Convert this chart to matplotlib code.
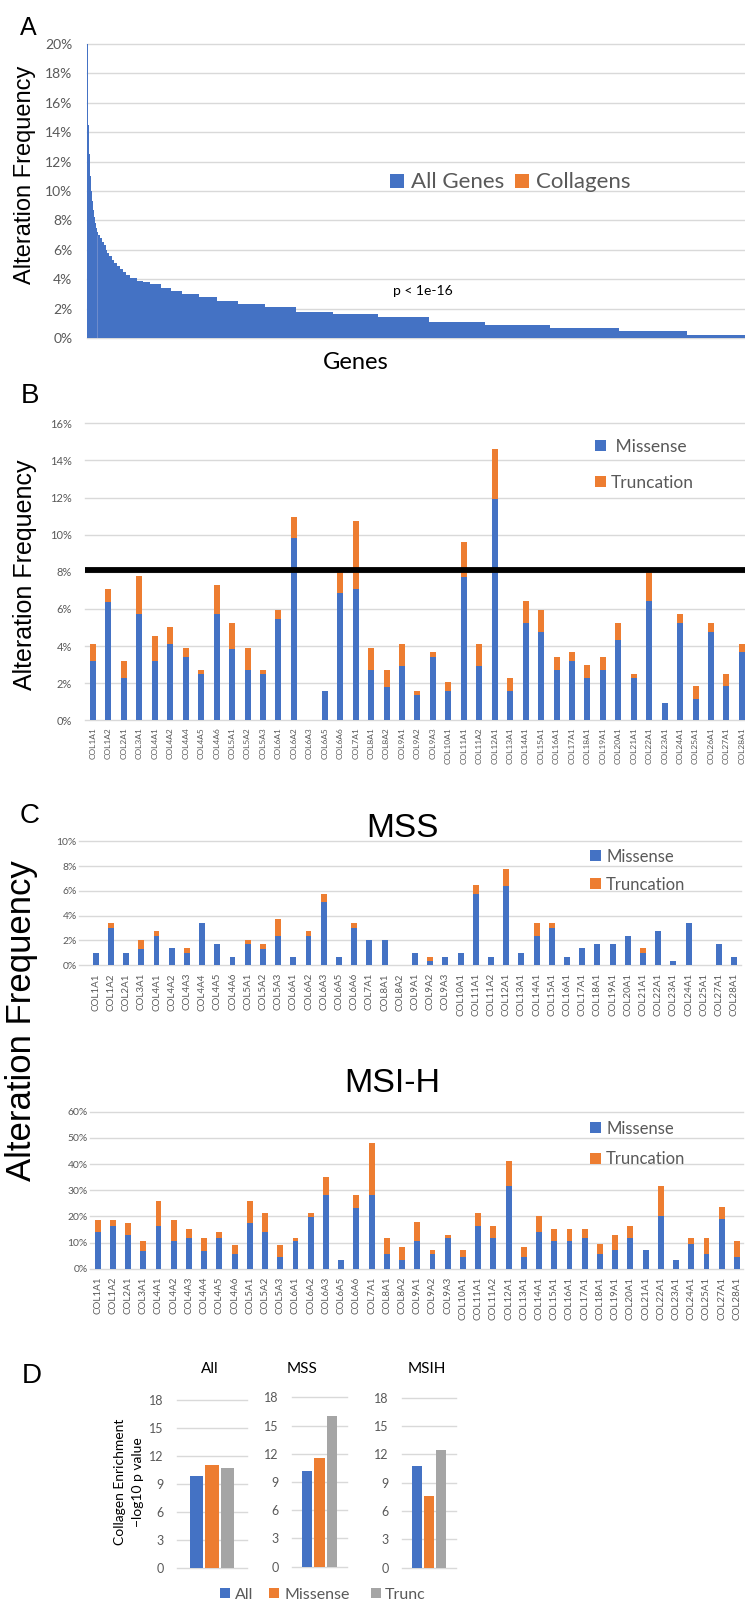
import matplotlib
matplotlib.use('Agg')
import matplotlib.pyplot as plt
from matplotlib.patches import Rectangle
from matplotlib.ticker import PercentFormatter
import numpy as np

plt.rcParams['font.family'] = ['Lato', 'DejaVu Sans']

W, H = 745, 1603
BLUE = '#4472C4'
ORANGE = '#ED7D31'
GREY = '#A5A5A5'
GRID = '#D9D9D9'
TICK = '#595959'

# ---- panel A: all genes sorted by alteration frequency (step levels, gene counts per step)
a_levels = [20.0, 14.5, 12.5, 11.0, 10.0, 9.3, 8.7, 8.2, 7.8, 7.5,
            7.2, 7.0, 6.8, 6.5, 6.3, 6.0, 5.8, 5.6, 5.3, 5.1,
            4.9, 4.7, 4.5, 4.3, 4.1, 3.9, 3.8, 3.7, 3.4, 3.2,
            3.0, 2.8, 2.5, 2.3, 2.1, 1.8, 1.6, 1.4, 1.1, 0.9,
            0.7, 0.5, 0.2]
a_counts = [2, 2, 2, 2, 2, 2, 2, 2, 2, 3,
            3, 3, 4, 4, 4, 4, 4, 5, 5, 6,
            6, 7, 7, 8, 14, 13, 15, 22, 21, 25,
            34, 38, 45, 56, 66, 79, 94, 107, 119, 136,
            146, 143, 160]
a_visible = 1386
collagen_pos = [21]
collagen_freq = [7.0]

# ---- panel B: all samples
genes_b = ['COL1A1', 'COL1A2', 'COL2A1', 'COL3A1', 'COL4A1', 'COL4A2', 'COL4A4', 'COL4A5',
           'COL4A6', 'COL5A1', 'COL5A2', 'COL5A3', 'COL6A1', 'COL6A2', 'COL6A3', 'COL6A5',
           'COL6A6', 'COL7A1', 'COL8A1', 'COL8A2', 'COL9A1', 'COL9A2', 'COL9A3', 'COL10A1',
           'COL11A1', 'COL11A2', 'COL12A1', 'COL13A1', 'COL14A1', 'COL15A1', 'COL16A1',
           'COL17A1', 'COL18A1', 'COL19A1', 'COL20A1', 'COL21A1', 'COL22A1', 'COL23A1',
           'COL24A1', 'COL25A1', 'COL26A1', 'COL27A1', 'COL28A1']
missense_b = [3.2, 6.4, 2.3, 5.7, 3.2, 4.1, 3.43, 2.51, 5.7, 3.86, 2.73, 2.51, 5.48, 9.8, 0,
              1.6, 6.84, 7.07, 2.73, 1.81, 2.95, 1.37, 3.43, 1.6, 7.74, 2.95, 11.9, 1.6,
              5.24, 4.78, 2.73, 3.2, 2.28, 2.73, 4.34, 2.28, 6.41, 0.93, 5.24, 1.13, 4.78,
              1.83, 3.66]
trunc_b = [0.9, 0.67, 0.9, 2.05, 1.36, 0.93, 0.47, 0.22, 1.6, 1.38, 1.17, 0.22, 0.46, 1.15, 0,
           0, 1.16, 3.67, 1.17, 0.92, 1.15, 0.23, 0.23, 0.46, 1.85, 1.15, 2.7, 0.68,
           1.17, 1.16, 0.7, 0.46, 0.68, 0.7, 0.9, 0.23, 1.59, 0, 0.47, 0.7, 0.46,
           0.68, 0.44]
threshold_b = 8.12

# ---- panel C: MSS and MSI-H
genes_c = ['COL1A1', 'COL1A2', 'COL2A1', 'COL3A1', 'COL4A1', 'COL4A2', 'COL4A3', 'COL4A4',
           'COL4A5', 'COL4A6', 'COL5A1', 'COL5A2', 'COL5A3', 'COL6A1', 'COL6A2', 'COL6A3',
           'COL6A5', 'COL6A6', 'COL7A1', 'COL8A1', 'COL8A2', 'COL9A1', 'COL9A2', 'COL9A3',
           'COL10A1', 'COL11A1', 'COL11A2', 'COL12A1', 'COL13A1', 'COL14A1', 'COL15A1',
           'COL16A1', 'COL17A1', 'COL18A1', 'COL19A1', 'COL20A1', 'COL21A1', 'COL22A1',
           'COL23A1', 'COL24A1', 'COL25A1', 'COL27A1', 'COL28A1']
mss_missense = [1.0, 3.02, 1.0, 1.32, 2.37, 1.35, 1.0, 3.4, 1.7, 0.67, 1.7, 1.32, 2.37, 0.67,
                2.37, 5.07, 0.67, 3.02, 2.0, 2.0, 0, 1.0, 0.32, 0.67, 1.0, 5.74, 0.67, 6.41,
                1.0, 2.37, 3.02, 0.67, 1.35, 1.7, 1.7, 2.37, 1.0, 2.72, 0.32, 3.4, 0, 1.7, 0.67]
mss_trunc = [0, 0.38, 0, 0.68, 0.35, 0, 0.35, 0, 0, 0, 0.32, 0.38, 1.35, 0, 0.35, 0.67, 0,
             0.38, 0, 0, 0, 0, 0.35, 0, 0, 0.7, 0, 1.38, 0, 1.03, 0.38, 0, 0, 0, 0, 0, 0.35,
             0, 0, 0, 0, 0, 0]
msi_missense = [14.1, 16.4, 12.8, 6.8, 16.4, 10.4, 11.6, 6.8, 11.6, 5.6, 17.5, 13.9, 4.5, 10.4,
                19.8, 28.1, 3.3, 23.3, 28.1, 5.7, 3.4, 10.4, 5.7, 11.7, 4.6, 16.4, 11.7, 31.7,
                4.6, 14.1, 10.4, 10.4, 11.7, 5.7, 7.0, 11.7, 7.0, 20.0, 3.4, 9.4, 5.7, 18.9, 4.6]
msi_trunc = [4.7, 2.4, 4.7, 3.6, 9.4, 8.4, 3.6, 4.8, 2.3, 3.6, 8.3, 7.2, 4.7, 1.2, 1.3, 7.1, 0,
             4.8, 20.1, 6.0, 4.8, 7.3, 1.3, 1.2, 2.4, 4.7, 4.7, 9.4, 3.6, 5.9, 4.9, 4.9, 3.6,
             3.7, 5.9, 4.7, 0, 11.7, 0, 2.3, 6.0, 4.7, 5.8]

# ---- panel D: collagen enrichment, -log10 p
d_groups = ['All', 'MSS', 'MSIH']
d_series = ['All', 'Missense', 'Trunc']
d_all = [9.84, 10.2, 10.77]
d_missense = [11.02, 11.55, 7.59]
d_trunc = [10.7, 16.05, 12.46]

fig = plt.figure(figsize=(W / 100, H / 100), dpi=100)


def px_axes(left, top, right, bottom):
    return fig.add_axes([left / W, 1 - bottom / H, (right - left) / W, (bottom - top) / H])


def style(ax, ymax, ystep, pad, size, pct=True):
    for s in ax.spines.values():
        s.set_visible(False)
    ax.set_ylim(0, ymax)
    ax.set_yticks(np.arange(0, ymax + ystep / 2, ystep))
    if pct:
        ax.yaxis.set_major_formatter(PercentFormatter(decimals=0))
    ax.tick_params(axis='both', length=0, colors=TICK)
    ax.tick_params(axis='y', pad=pad, labelsize=size)
    ax.grid(axis='y', color=GRID, linewidth=1.0)
    for g in ax.get_ygridlines():
        g.set_clip_on(False)
    ax.set_axisbelow(True)


def ftext(x, y, s, **kw):
    fig.text(x / W, 1 - y / H, s, **kw)


def fbox(x0, y0, x1, y1, color):
    fig.add_artist(Rectangle((x0 / W, 1 - y1 / H), (x1 - x0) / W, (y1 - y0) / H,
                             transform=fig.transFigure, color=color, lw=0))


def legend_item(x0, yc, side, color, label, tx, size):
    fbox(x0, yc - side / 2, x0 + side, yc + side / 2, color)
    ftext(tx, yc + 0.36 * size * 100 / 72, label, fontsize=size, color=TICK, va='baseline')


def stacked(ax, genes, missense, trunc, width, xlim, label_size, label_pad):
    x = np.arange(len(genes))
    ax.bar(x, missense, width=width, color=BLUE, linewidth=0)
    ax.bar(x, trunc, width=width, bottom=missense, color=ORANGE, linewidth=0)
    ax.set_xlim(*xlim)
    ax.set_xticks(x)
    ax.set_xticklabels(genes, rotation=90, fontsize=label_size)
    ax.tick_params(axis='x', pad=label_pad)


# ---------------- panel A
axA = px_axes(87, 44, 745, 338)
style(axA, 20, 2, 10.5, 10)
edges = np.concatenate([[0], np.cumsum(a_counts)])
axA.stairs(a_levels, edges, fill=True, color=BLUE, linewidth=0)
axA.vlines(collagen_pos, 0, collagen_freq, color='#7F97D0', linewidth=0.5)
axA.set_xlim(0, a_visible)
axA.set_xticks([])
ftext(20, 35, 'A', fontsize=18, family='Liberation Sans')
ftext(25, 175, 'Alteration Frequency', fontsize=17, family='Liberation Sans',
      rotation=90, ha='center', va='center')
fbox(390, 174, 404, 188, BLUE)
ftext(411, 188, 'All Genes', fontsize=16, color=TICK, va='baseline')
fbox(515, 174, 529, 188, ORANGE)
ftext(536, 188, 'Collagens', fontsize=16, color=TICK, va='baseline')
ftext(423, 295, 'p < 1e-16', fontsize=10, ha='center', va='baseline')
ftext(356, 369, 'Genes', fontsize=17, ha='center', va='baseline')

# ---------------- panel B
axB = px_axes(85, 423.3, 745, 720.3)
style(axB, 16, 2, 9.5, 8)
stacked(axB, genes_b, missense_b, trunc_b, 0.39, (-0.52, 42.2), 6, 5)
axB.axhline(threshold_b, xmin=0.0015, color='black', linewidth=4.2, zorder=5)
ftext(21, 403, 'B', fontsize=20, family='Liberation Sans')
ftext(25, 575, 'Alteration Frequency', fontsize=18, family='Liberation Sans',
      rotation=90, ha='center', va='center')
legend_item(595, 445.5, 11, BLUE, ' Missense', 611, 12.5)
legend_item(595, 481.5, 11, ORANGE, 'Truncation', 611, 12.5)

# ---------------- panel C
axM = px_axes(79, 841.3, 741, 965)
style(axM, 10, 2, 1.5, 7.5)
stacked(axM, genes_c, mss_missense, mss_trunc, 0.39, (-1.1, 42.45), 7, 5.8)
legend_item(590, 855.5, 11, BLUE, 'Missense', 606, 12)
legend_item(590, 883.5, 11, ORANGE, 'Truncation', 606, 12)
ftext(402, 837, 'MSS', fontsize=24, family='Liberation Sans', ha='center', va='baseline')

axH = px_axes(90, 1111.7, 743, 1268.7)
style(axH, 60, 10, 1.5, 7.5)
stacked(axH, genes_c, msi_missense, msi_trunc, 0.39, (-0.5, 42.4), 7, 5.8)
legend_item(590, 1127.5, 11, BLUE, 'Missense', 606, 12)
legend_item(590, 1158, 11, ORANGE, 'Truncation', 606, 12)
ftext(392, 1092, 'MSI-H', fontsize=24.5, family='Liberation Sans', ha='center', va='baseline')

ftext(20, 823, 'C', fontsize=20, family='Liberation Sans')
ftext(22, 1021, 'Alteration Frequency', fontsize=25, family='Liberation Sans',
      rotation=90, ha='center', va='center')

# ---------------- panel D
d_boxes = [(177, 1400, 247, 1567.7), (292, 1397.3, 347, 1566.7), (402, 1397.7, 456, 1567.7)]
d_title_x = [210, 302, 427]
d_vals = [d_all, d_missense, d_trunc]
d_colors = [BLUE, ORANGE, GREY]
offsets = [-0.222, 0.0, 0.222]
for i, grp in enumerate(d_groups):
    ax = px_axes(*d_boxes[i])
    style(ax, 18, 3, 9.5, 9, pct=False)
    for j in range(len(d_series)):
        ax.bar(offsets[j], d_vals[j][i], width=0.186, color=d_colors[j], linewidth=0)
    ax.set_xlim(-0.5, 0.5)
    ax.set_xticks([])
    ftext(d_title_x[i], 1373, grp, fontsize=11, ha='center', va='baseline')

ftext(22, 1383, 'D', fontsize=20, family='Liberation Sans')
ftext(120, 1482, 'Collagen Enrichment', fontsize=10, rotation=90, ha='center', va='center')
ftext(138, 1482, '\u2212log10 p value', fontsize=10, rotation=90, ha='center', va='center')
legend_item(220, 1593, 10, BLUE, 'All', 235, 11.5)
legend_item(269, 1593, 10, ORANGE, 'Missense', 284, 11.5)
legend_item(371, 1593, 10, GREY, 'Trunc', 385, 11.5)

fig.savefig('out.png', dpi=100)
